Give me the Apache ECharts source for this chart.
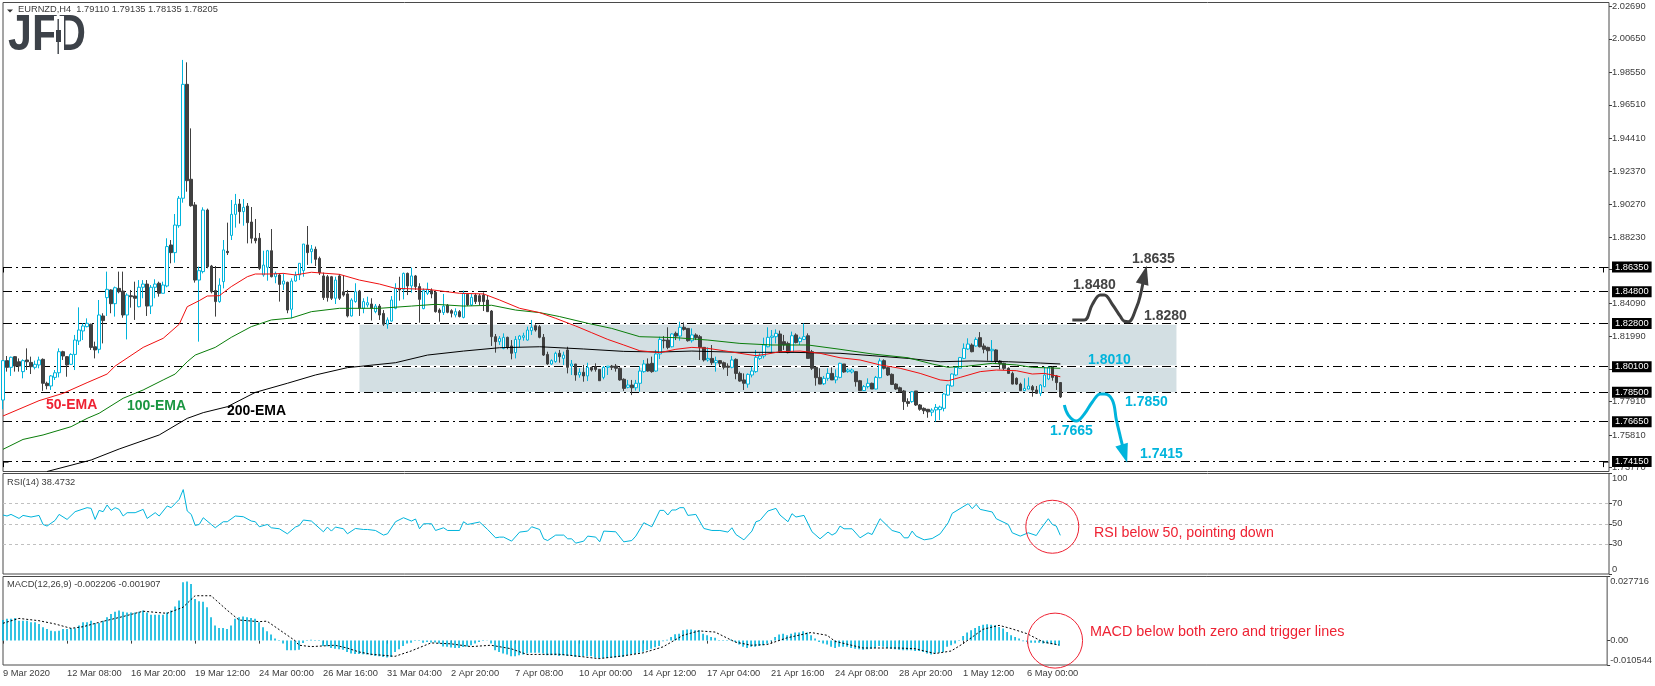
<!DOCTYPE html>
<html><head><meta charset="utf-8">
<style>html,body{margin:0;padding:0;background:#fff}#c{width:1655px;height:686px}</style>
<script src="https://cdn.jsdelivr.net/npm/echarts@6/dist/echarts.min.js"></script>
</head><body><div id="c"></div><script>
const xTickLabels=['9 Mar 2020','12 Mar 08:00','16 Mar 20:00','19 Mar 12:00','24 Mar 00:00','26 Mar 16:00','31 Mar 04:00','2 Apr 20:00','7 Apr 08:00','10 Apr 00:00','14 Apr 12:00','17 Apr 04:00','21 Apr 16:00','24 Apr 08:00','28 Apr 20:00','1 May 12:00','6 May 00:00'];
const priceTicks=[2.0269,2.0065,1.9855,1.9651,1.9441,1.9237,1.9027,1.8823,1.8619,1.8409,1.8199,1.7995,1.7791,1.7581,1.7377];
const levels=[1.8635,1.848,1.828,1.801,1.785,1.7665,1.7415];
const lastPrice=1.78205;
const boxRange=[1.828,1.785];
// open, close, low, high
const candles=[
[1.7801,1.8048,1.7743,1.8052],[1.8048,1.8006,1.7979,1.8077],[1.8006,1.8069,1.7952,1.8073],[1.8073,1.8014,1.7979,1.8077],[1.8041,1.8014,1.7979,1.8062],
[1.7979,1.8048,1.7937,1.8056],[1.8052,1.8041,1.7989,1.8125],[1.8037,1.8010,1.7964,1.8073],[1.8006,1.8025,1.7993,1.8048],[1.8021,1.8052,1.8000,1.8073],
[1.8056,1.7906,1.7858,1.8062],[1.7906,1.7891,1.7868,1.7916],[1.7889,1.7952,1.7864,1.7958],[1.7943,1.7972,1.7927,1.7989],[1.7972,1.8104,1.7943,1.8125],
[1.8104,1.8077,1.8052,1.8110],[1.8073,1.8021,1.7947,1.8077],[1.8025,1.8087,1.8021,1.8094],[1.8087,1.8177,1.7989,1.8209],[1.8171,1.8240,1.8146,1.8382],
[1.8234,1.8265,1.8177,1.8282],[1.8261,1.8282,1.8257,1.8313],[1.8276,1.8131,1.8115,1.8280],[1.8135,1.8115,1.8062,1.8167],[1.8119,1.8334,1.8094,1.8428],
[1.8328,1.8299,1.8156,1.8345],[1.8443,1.8495,1.8328,1.8606],[1.8491,1.8405,1.8345,1.8495],[1.8405,1.8505,1.8324,1.8512],[1.8501,1.8480,1.8470,1.8606],
[1.8484,1.8334,1.8317,1.8606],[1.8334,1.8459,1.8181,1.8470],[1.8455,1.8449,1.8380,1.8491],[1.8453,1.8439,1.8303,1.8543],[1.8386,1.8508,1.8382,1.8553],
[1.8508,1.8528,1.8439,1.8553],[1.8528,1.8390,1.8328,1.8553],[1.8390,1.8508,1.8340,1.8522],[1.8508,1.8528,1.8439,1.8558],[1.8533,1.8470,1.8449,1.8543],
[1.8470,1.8522,1.8470,1.8543],[1.8516,1.8763,1.8508,1.8815],[1.8773,1.8725,1.8658,1.8804],[1.8725,1.8898,1.8662,1.8967],[1.8894,1.9066,1.8881,1.9080],
[1.9066,1.9780,1.9038,1.9933],[1.9780,1.9176,1.9107,1.9918],[1.9185,1.9019,1.9013,1.9504],[1.9024,1.8553,1.8537,1.9042],[1.8553,1.8612,1.8167,1.8637],
[1.8606,1.8992,1.8595,1.9009],[1.8992,1.8637,1.8627,1.9001],[1.8641,1.8480,1.8470,1.8648],[1.8487,1.8418,1.8324,1.8641],[1.8418,1.8522,1.8411,1.8564],
[1.8543,1.8742,1.8501,1.8804],[1.8733,1.8725,1.8710,1.8913],[1.8833,1.8965,1.8804,1.9055],[1.8965,1.9028,1.8882,1.9093],[1.9030,1.8982,1.8907,1.9061],
[1.8982,1.9009,1.8894,1.9061],[1.9017,1.8913,1.8783,1.9036],[1.8917,1.8815,1.8783,1.9011],[1.8815,1.8800,1.8783,1.8936],[1.8815,1.8627,1.8616,1.8848],
[1.8585,1.8647,1.8574,1.8737],[1.8633,1.8737,1.8549,1.8742],[1.8737,1.8574,1.8570,1.8873],[1.8574,1.8595,1.8533,1.8606],[1.8585,1.8526,1.8418,1.8595],
[1.8528,1.8547,1.8491,1.8595],[1.8539,1.8365,1.8345,1.8543],[1.8370,1.8547,1.8313,1.8564],[1.8547,1.8581,1.8543,1.8606],[1.8585,1.8658,1.8553,1.8658],
[1.8612,1.8779,1.8574,1.8779],[1.8773,1.8725,1.8648,1.8892],[1.8731,1.8748,1.8658,1.8773],[1.8746,1.8683,1.8641,1.8763],[1.8689,1.8599,1.8585,1.8700],
[1.8579,1.8443,1.8428,1.8600],[1.8574,1.8443,1.8418,1.8585],[1.8574,1.8439,1.8428,1.8579],[1.8439,1.8553,1.8403,1.8574],[1.8579,1.8439,1.8428,1.8591],
[1.8480,1.8459,1.8449,1.8585],[1.8466,1.8328,1.8319,1.8491],[1.8328,1.8428,1.8324,1.8439],[1.8418,1.8480,1.8411,1.8533],[1.8484,1.8376,1.8328,1.8491],
[1.8376,1.8418,1.8345,1.8439],[1.8397,1.8411,1.8382,1.8449],[1.8403,1.8376,1.8299,1.8439],[1.8355,1.8390,1.8345,1.8403],[1.8390,1.8334,1.8303,1.8403],
[1.8344,1.8276,1.8265,1.8365],[1.8276,1.8303,1.8248,1.8319],[1.8296,1.8428,1.8292,1.8453],[1.8376,1.8501,1.8370,1.8533],[1.8501,1.8491,1.8424,1.8574],
[1.8495,1.8595,1.8432,1.8600],[1.8595,1.8516,1.8459,1.8600],[1.8516,1.8579,1.8474,1.8631],[1.8579,1.8512,1.8491,1.8585],[1.8512,1.8432,1.8286,1.8533],
[1.8374,1.8487,1.8370,1.8501],[1.8470,1.8495,1.8459,1.8537],[1.8487,1.8466,1.8439,1.8501],[1.8476,1.8355,1.8349,1.8487],[1.8365,1.8349,1.8292,1.8376],
[1.8349,1.8390,1.8334,1.8466],[1.8395,1.8351,1.8345,1.8403],[1.8361,1.8345,1.8319,1.8370],[1.8334,1.8355,1.8319,1.8376],[1.8355,1.8324,1.8319,1.8365],
[1.8319,1.8470,1.8313,1.8487],[1.8464,1.8397,1.8390,1.8470],[1.8397,1.8445,1.8390,1.8466],[1.8459,1.8418,1.8403,1.8470],[1.8455,1.8418,1.8397,1.8466],
[1.8459,1.8418,1.8359,1.8476],[1.8428,1.8355,1.8355,1.8459],[1.8359,1.8198,1.8140,1.8365],[1.8198,1.8167,1.8098,1.8215],[1.8167,1.8188,1.8146,1.8202],
[1.8125,1.8194,1.8119,1.8219],[1.8194,1.8131,1.8119,1.8198],[1.8140,1.8094,1.8056,1.8177],[1.8098,1.8181,1.8062,1.8202],[1.8181,1.8202,1.8131,1.8209],
[1.8194,1.8204,1.8173,1.8223],[1.8177,1.8240,1.8173,1.8261],[1.8236,1.8257,1.8209,1.8303],[1.8267,1.8240,1.8230,1.8276],[1.8261,1.8194,1.8188,1.8271],
[1.8194,1.8083,1.8077,1.8215],[1.8087,1.8027,1.8021,1.8104],[1.8027,1.8048,1.8021,1.8056],[1.8042,1.8094,1.8035,1.8104],[1.8094,1.8073,1.8035,1.8115],
[1.8062,1.8083,1.8021,1.8104],[1.8115,1.8006,1.7968,1.8135],[1.8014,1.8027,1.7958,1.8052],[1.8027,1.7958,1.7922,1.8027],[1.7958,1.7975,1.7941,1.8000],
[1.7975,1.7952,1.7916,1.8021],[1.7952,1.8006,1.7920,1.8035],[1.8006,1.7989,1.7979,1.8010],[1.8010,1.7993,1.7979,1.8031],[1.7993,1.7922,1.7922,1.7993],
[1.7943,1.8006,1.7931,1.8014],[1.8006,1.8014,1.7958,1.8014],[1.8014,1.8006,1.7989,1.8021],[1.8014,1.8000,1.7979,1.8027],[1.8000,1.7927,1.7922,1.8006],
[1.7931,1.7874,1.7858,1.7937],[1.7881,1.7895,1.7874,1.7927],[1.7895,1.7878,1.7832,1.7927],[1.7878,1.7906,1.7860,1.7927],[1.7906,1.7983,1.7853,1.8014],
[1.7979,1.8027,1.7972,1.8052],[1.8027,1.7983,1.7979,1.8062],[1.8031,1.7979,1.7972,1.8073],[1.7983,1.8090,1.7979,1.8115],[1.8090,1.8181,1.8058,1.8198],
[1.8177,1.8173,1.8125,1.8202],[1.8177,1.8131,1.8119,1.8257],[1.8135,1.8215,1.8131,1.8219],[1.8219,1.8202,1.8177,1.8230],[1.8202,1.8257,1.8173,1.8292],
[1.8257,1.8244,1.8236,1.8288],[1.8250,1.8173,1.8167,1.8250],[1.8173,1.8209,1.8161,1.8250],[1.8209,1.8192,1.8177,1.8219],[1.8198,1.8131,1.8052,1.8209],
[1.8131,1.8052,1.8042,1.8131],[1.8052,1.8062,1.8042,1.8131],[1.8062,1.8035,1.8021,1.8146],[1.8035,1.8048,1.7979,1.8073],[1.8048,1.8031,1.8014,1.8052],
[1.8035,1.8006,1.7993,1.8042],[1.8014,1.8006,1.7952,1.8031],[1.8006,1.8052,1.8000,1.8077],[1.8056,1.7968,1.7931,1.8062],[1.7968,1.7920,1.7916,1.7979],
[1.7927,1.7906,1.7864,1.7968],[1.7901,1.7962,1.7878,1.7968],[1.7958,1.7983,1.7943,1.8010],[1.7979,1.8069,1.7972,1.8115],[1.8062,1.8077,1.8052,1.8094],
[1.8077,1.8146,1.8062,1.8192],[1.8135,1.8194,1.8131,1.8257],[1.8194,1.8202,1.8094,1.8240],[1.8198,1.8219,1.8156,1.8244],[1.8215,1.8104,1.8098,1.8236],
[1.8167,1.8146,1.8115,1.8209],[1.8156,1.8098,1.8094,1.8167],[1.8100,1.8204,1.8098,1.8230],[1.8209,1.8161,1.8156,1.8219],[1.8167,1.8188,1.8146,1.8198],
[1.8181,1.8198,1.8177,1.8282],[1.8204,1.8062,1.8062,1.8219],[1.8104,1.8000,1.7989,1.8115],[1.8006,1.7941,1.7891,1.8010],[1.7943,1.7901,1.7901,1.8000],
[1.7903,1.7937,1.7895,1.7952],[1.7937,1.7968,1.7922,1.8000],[1.7968,1.7927,1.7927,1.8006],[1.7927,1.7947,1.7906,1.7993],[1.7943,1.8031,1.7937,1.8035],
[1.8027,1.7977,1.7972,1.8027],[1.7979,1.7989,1.7972,1.8000],[1.7977,1.7989,1.7968,1.7998],[1.7979,1.7916,1.7885,1.7983],[1.7922,1.7860,1.7860,1.7927],
[1.7860,1.7885,1.7858,1.7895],[1.7885,1.7906,1.7874,1.7937],[1.7906,1.7870,1.7870,1.7910],[1.7870,1.7943,1.7868,1.7952],[1.7941,1.8046,1.7937,1.8062],
[1.8048,1.8000,1.7993,1.8056],[1.8004,1.7958,1.7952,1.8010],[1.7962,1.7899,1.7895,1.7968],[1.7901,1.7870,1.7864,1.7906],[1.7878,1.7853,1.7849,1.7885],
[1.7858,1.7791,1.7739,1.7864],[1.7791,1.7780,1.7759,1.7812],[1.7791,1.7853,1.7784,1.7858],[1.7858,1.7770,1.7764,1.7858],[1.7770,1.7743,1.7734,1.7776],
[1.7749,1.7734,1.7713,1.7755],[1.7743,1.7727,1.7690,1.7745],[1.7725,1.7738,1.7700,1.7749],[1.7739,1.7755,1.7665,1.7776],[1.7741,1.7757,1.7675,1.7766],
[1.7749,1.7839,1.7730,1.7845],[1.7832,1.7895,1.7828,1.7899],[1.7889,1.7964,1.7885,1.7968],[1.7958,1.8006,1.7952,1.8010],[1.8000,1.8067,1.7996,1.8071],
[1.8062,1.8125,1.8058,1.8156],[1.8121,1.8152,1.8115,1.8188],[1.8146,1.8104,1.8100,1.8156],[1.8140,1.8181,1.8135,1.8194],[1.8192,1.8135,1.8131,1.8227],
[1.8140,1.8119,1.8094,1.8156],[1.8131,1.8110,1.8048,1.8135],[1.8110,1.8119,1.8042,1.8177],[1.8115,1.8046,1.8031,1.8119],[1.8046,1.8027,1.7993,1.8052],
[1.8031,1.8000,1.7989,1.8035],[1.8000,1.7968,1.7968,1.8006],[1.7968,1.7901,1.7899,1.7979],[1.7937,1.7901,1.7895,1.7943],[1.7901,1.7860,1.7858,1.7910],
[1.7860,1.7874,1.7858,1.7937],[1.7870,1.7889,1.7868,1.7943],[1.7885,1.7864,1.7822,1.7895],[1.7864,1.7843,1.7839,1.7889],[1.7843,1.7895,1.7826,1.7901],
[1.7885,1.7958,1.7881,1.8010],[1.7933,1.8006,1.7926,1.8010],[1.8006,1.7943,1.7922,1.8014],[1.7952,1.7910,1.7864,1.7958],[1.7911,1.78205,1.78135,1.79135]
];
const ema50=[[0,1.7701],[9,1.7797],[15,1.7843],[21,1.7910],[26,1.7964],[28,1.8014],[35,1.8131],[40,1.8188],[44,1.8276],[46,1.8386],[49,1.8424],[51,1.8453],[54,1.8455],[57,1.8512],[61,1.8574],[63,1.8591],[67,1.8591],[70,1.8595],[73,1.8585],[77,1.8602],[84,1.8589],[89,1.8553],[94,1.8528],[98,1.8501],[106,1.8495],[114,1.8470],[120,1.8466],[124,1.8428],[129,1.8376],[134,1.8349],[138,1.8313],[143,1.8265],[147,1.8223],[151,1.8181],[155,1.8146],[159,1.8110],[164,1.8098],[168,1.8119],[172,1.8131],[176,1.8125],[180,1.8110],[184,1.8094],[188,1.8079],[191,1.8090],[194,1.8104],[199,1.8108],[204,1.8094],[209,1.8066],[214,1.8052],[219,1.8021],[224,1.8000],[229,1.7968],[234,1.7927],[236,1.7922],[239,1.7943],[244,1.7979],[248,1.7989],[253,1.7985],[257,1.7964],[260,1.7968],[262,1.7958],[264,1.7947]];
const ema100=[[0,1.7492],[5,1.7554],[10,1.7582],[17,1.7634],[21,1.7686],[24,1.7718],[30,1.7812],[35,1.7864],[40,1.7927],[43,1.7964],[46,1.8041],[48,1.8083],[53,1.8131],[57,1.8194],[62,1.8261],[67,1.8303],[72,1.8315],[77,1.8355],[84,1.8376],[94,1.8376],[102,1.8390],[108,1.8401],[115,1.8390],[122,1.8395],[128,1.8365],[134,1.8349],[139,1.8324],[146,1.8282],[152,1.8250],[159,1.8198],[168,1.8192],[176,1.8177],[184,1.8156],[192,1.8146],[201,1.8146],[209,1.8119],[217,1.8090],[226,1.8066],[232,1.8027],[236,1.8006],[241,1.8014],[247,1.8031],[253,1.8021],[257,1.8006],[264,1.8000]];
const ema200=[[11,1.7353],[22,1.7425],[29,1.7494],[39,1.7582],[46,1.7686],[50,1.7722],[56,1.7759],[63,1.7849],[71,1.7906],[78,1.7958],[86,1.8004],[98,1.8035],[106,1.8083],[115,1.8108],[124,1.8129],[134,1.8135],[145,1.8121],[155,1.8106],[164,1.8102],[172,1.8108],[184,1.8100],[197,1.8100],[209,1.8094],[217,1.8079],[226,1.8062],[234,1.8041],[242,1.8046],[251,1.8041],[259,1.8033],[264,1.8027]];
const rsi=[[0,58.7],[1,57.7],[2,59.3],[4,55.3],[5,58.3],[7,56.7],[9,58.3],[10,49.3],[11,47.7],[13,53.3],[14,59.3],[16,54.3],[18,62],[21,66],[22,65.3],[23,54.3],[24,63.3],[25,62],[26,68.7],[27,63.3],[28,66],[29,64.3],[30,57.7],[31,61],[33,61],[35,64.3],[36,55.3],[38,61],[39,57.7],[41,67.7],[42,66],[44,74.3],[45,84],[46,62.7],[47,59.3],[48,48.3],[49,49.3],[50,56],[52,49.3],[53,46],[55,52],[56,52],[58,57.7],[60,57],[62,52.7],[63,52],[64,47],[66,49.3],[67,46],[69,45],[71,40],[73,46.7],[74,48.3],[75,53.7],[77,52.7],[80,42],[81,46.7],[82,42.7],[83,46.7],[85,45],[86,40],[88,45.3],[90,44.3],[91,44.3],[93,43.3],[95,38.7],[96,40],[98,52],[100,56],[102,52.7],[103,54.7],[104,45],[105,50],[107,50],[108,43.3],[110,46],[111,43.3],[114,43.3],[115,52],[116,49.3],[119,51.7],[121,44.3],[123,36],[124,36.7],[125,36.7],[127,32.7],[129,41.7],[131,42.7],[132,47],[134,44.3],[135,35],[136,33.3],[138,38.7],[140,38.7],[141,35],[142,35],[143,30.7],[145,32.7],[146,37.7],[148,36.7],[149,32],[150,42.7],[153,42],[155,32],[157,33.3],[158,37.7],[160,51],[162,47],[164,63.3],[165,63.3],[166,58.7],[167,63.7],[168,63.7],[169,66],[170,66],[171,58.3],[173,59.3],[175,45.3],[177,43.3],[179,43.3],[181,41.7],[182,46],[183,39.3],[185,34],[187,42.7],[188,52],[189,53.3],[191,62.7],[193,65.3],[194,58.7],[196,52],[197,60],[198,56.7],[200,58.3],[202,42],[204,35],[206,41.7],[207,38.7],[208,41],[209,47.7],[210,45],[212,45],[214,36],[216,41],[217,39.3],[219,55],[222,43.3],[224,41],[225,36],[226,36],[227,42.7],[228,37.7],[230,34],[232,35.3],[234,40],[236,51],[237,60.3],[241,70],[242,65],[243,69.3],[244,64.3],[247,61.7],[248,55],[251,49.3],[252,41],[254,37.7],[256,41],[258,38.3],[259,44.3],[261,55],[262,49.3],[263,47.7],[264,38.47]];
const rsiLevels=[30,50,70];
const rsiTicks=[0,30,50,70,100];
const macdHist=[.0089,.0094,.0094,.0098,.0086,.0086,.0086,.0079,.0079,.0072,.0058,.0050,.0043,.0040,.0043,.0050,.0050,.0053,.0053,.0065,.0079,.0079,.0086,.0076,.0076,.0086,.0101,.0115,.0125,.0130,.0125,.0122,.0122,.0122,.0125,.0130,.0122,.0112,.0112,.0112,.0112,.0122,.0130,.0147,.0173,.0252,.0256,.0245,.0180,.0170,.0168,.0144,.0101,.0065,.0055,.0055,.0050,.0065,.0094,.0101,.0104,.0101,.0098,.0094,.0079,.0058,.0040,.0026,.0009,.0003,-.0013,-.0042,-.0042,-.0042,-.0040,-.0010,.0003,.0004,.0003,.0003,-.0023,-.0024,-.0032,-.0035,-.0037,-.0040,-.0049,-.0056,-.0058,-.0058,-.0059,-.0060,-.0063,-.0066,-.0068,-.0071,-.0073,-.0071,-.0049,-.0037,-.0023,-.0013,-.0009,.0003,.0003,-.0009,-.0006,-.0008,-.0008,-.0013,-.0025,-.0027,-.0030,-.0032,-.0032,-.0028,-.0025,-.0020,-.0013,-.0006,.0003,.0002,-.0012,-.0042,-.0049,-.0056,-.0060,-.0068,-.0068,-.0063,-.0060,-.0056,-.0052,-.0052,-.0052,-.0056,-.0063,-.0063,-.0063,-.0066,-.0063,-.0066,-.0066,-.0071,-.0071,-.0068,-.0068,-.0068,-.0073,-.0075,-.0075,-.0075,-.0073,-.0073,-.0071,-.0071,-.0063,-.0058,-.0058,-.0052,-.0048,-.0042,-.0035,-.0029,-.0023,-.0003,.0004,.0016,.0027,.0030,.0045,.0048,.0048,.0045,.0045,.0030,.0023,.0016,.0012,.0003,.0003,.0003,.0005,-.0006,-.0017,-.0027,-.0032,-.0027,-.0027,-.0023,-.0020,-.0014,-.0003,.0016,.0026,.0030,.0023,.0030,.0035,.0035,.0040,.0035,.0023,.0009,-.0006,-.0013,-.0017,-.0027,-.0032,-.0027,-.0027,-.0027,-.0032,-.0035,-.0037,-.0039,-.0037,-.0035,-.0032,-.0023,-.0027,-.0032,-.0035,-.0037,-.0039,-.0042,-.0042,-.0042,-.0045,-.0045,-.0049,-.0056,-.0060,-.0056,-.0053,-.0049,-.0027,-.0020,-.0013,.0003,.0020,.0035,.0045,.0055,.0063,.0069,.0071,.0069,.0066,.0059,.0052,.0037,.0023,.0016,.0009,-.0003,-.0006,-.0009,-.0009,-.0009,-.0013,-.0013,-.0016,-.0018,-.0022];
const macdSignal=[[0,.0075],[4,.0096],[9,.0086],[13,.0072],[17,.0053],[20,.0060],[24,.0079],[30,.0104],[35,.0127],[41,.0118],[45,.0144],[48,.0194],[52,.0194],[56,.0132],[59,.0089],[64,.0082],[66,.0084],[70,.0036],[73,0],[74,-.0020],[77,-.0026],[83,-.0020],[86,-.0032],[89,-.0049],[92,-.0059],[98,-.0068],[102,-.0045],[107,-.0010],[112,-.0014],[117,-.0026],[122,-.0020],[127,-.0035],[131,-.0060],[139,-.0059],[143,-.0066],[149,-.0078],[155,-.0066],[160,-.0053],[165,-.0027],[170,.0023],[174,.0042],[178,.0037],[183,-.0006],[187,-.0020],[191,-.0017],[196,.0012],[202,.0035],[206,.0023],[208,-.0003],[215,-.0032],[224,-.0032],[228,-.0035],[233,-.0056],[237,-.0045],[240,-.0013],[245,.0049],[249,.0066],[252,.0052],[256,.0030],[260,-.0006],[264,-.0019]];
const macdTicks=[-0.010544,0,0.027716];
const upPath=[[267,1.8303],[270,1.8303],[272,1.8400],[274,1.8459],[275,1.8459],[277,1.8400],[279,1.8325],[280,1.8295],[281,1.8292],[283,1.8380],[284,1.8460],[285,1.8585]];
const downPath=[[265,1.7770],[266,1.7707],[268,1.7669],[270,1.7713],[272,1.7789],[274,1.7839],[275,1.7839],[277,1.7801],[278,1.7676],[279,1.7569],[280,1.7465]];
const pointerRsi=[262,47];
const pointerMacd=[263,0];
const stepMarks=[[0,1.8635],[0,1.7415],[401,1.8635],[401,1.7415]];

const BLUE='#00b4dc',DARK='#404040',FRAME='#4a4a4a',AX='#3c3c3c',RED='#ee2233';
const FONT='"Liberation Sans",Arial,sans-serif';
const categories=[];for(let i=0;i<402;i++)categories.push(i%16===0&&xTickLabels[i/16]?xTickLabels[i/16]:'');
const L=3,W=1606;
const grids=[{left:L,top:2.5,width:W,height:469},{left:L,top:473.5,width:W,height:100.5},{left:L,top:576.5,width:W,height:88.5}]
  .map(g=>Object.assign(g,{show:true,borderColor:FRAME,borderWidth:1,backgroundColor:'#fff',containLabel:false}));
function xa(i,show){return {type:'category',gridIndex:i,data:categories,boundaryGap:false,show:show,
  axisLine:{show:false},axisTick:{show:show,length:3,interval:(k)=>k%16===0&&k<=256,lineStyle:{color:AX}},
  axisLabel:{show:show,interval:(k)=>k%16===0&&k<=256,align:'left',margin:4,color:AX,fontSize:9.3,fontFamily:FONT,hideOverlap:false},splitLine:{show:false}};}
function ya(i,min,max,ticks,fmt,extra){return Object.assign({type:'value',gridIndex:i,position:'right',min:min,max:max,scale:true,
  axisLine:{show:false},axisTick:{show:true,length:3,customValues:ticks,lineStyle:{color:AX}},
  axisLabel:{show:true,customValues:ticks,margin:3,color:AX,fontSize:9.3,fontFamily:FONT,formatter:fmt,showMinLabel:true,showMaxLabel:true},splitLine:{show:false}},extra||{});}
const lev=v=>({yAxis:v});
const option={animation:false,backgroundColor:'#fff',textStyle:{fontFamily:FONT},
 grid:grids,
 xAxis:[xa(0,false),xa(1,false),xa(2,true)],
 yAxis:[
  ya(0,1.7353,2.0293,priceTicks,v=>v.toFixed(5)),
  (()=>{const a=ya(1,0,100,rsiTicks,v=>String(v));a.axisLabel.verticalAlignMinLabel='bottom';a.axisLabel.verticalAlignMaxLabel='top';return a;})(),
  (()=>{const a=ya(2,macdTicks[0],macdTicks[2],macdTicks,v=>v===0?'0.00':v.toFixed(6));a.axisLabel.verticalAlignMinLabel='bottom';a.axisLabel.verticalAlignMaxLabel='top';return a;})()
 ],
 series:[
  {type:'line',name:'box',xAxisIndex:0,yAxisIndex:0,data:[],z:1,clip:false,silent:true,
   markArea:{silent:true,z:1,itemStyle:{color:'#d3dfe3'},data:[[{xAxis:89,yAxis:boxRange[0]},{xAxis:293,yAxis:boxRange[1]}]]},
   markLine:{silent:true,z:1,precision:5,symbol:'none',label:{show:false},lineStyle:{color:'#fff',width:2.5,type:'solid'},
     data:[[{xAxis:89,yAxis:1.828},{xAxis:293,yAxis:1.828}],[{xAxis:89,yAxis:1.801},{xAxis:293,yAxis:1.801}]]}},
  {type:'line',name:'levels',xAxisIndex:0,yAxisIndex:0,data:[],z:2,clip:false,silent:true,
   markPoint:{silent:true,z:2,symbol:'path://M0 10V0H10',symbolSize:5,label:{show:false},
     itemStyle:{color:'none',borderColor:'#000',borderWidth:1},
     data:stepMarks.map(c=>({coord:c,symbolOffset:[c[0]===0?3:-3,3]}))},
   markLine:{silent:true,z:2,precision:5,symbol:'none',lineStyle:{color:'#000',width:1,type:[9,4,2,4]},
     label:{show:true,position:'end',distance:3,color:'#fff',backgroundColor:'#000',padding:[1,3,1,3],fontSize:9.3,fontFamily:FONT,formatter:p=>Number(p.value).toFixed(5)},
     data:[{yAxis:lastPrice,lineStyle:{opacity:0},label:{backgroundColor:'#7f7f7f'}}].concat(levels.map(lev))}},
  {type:'candlestick',name:'EURNZD',xAxisIndex:0,yAxisIndex:0,data:candles,barWidth:3,z:3,
   itemStyle:{color:'#fff',color0:DARK,borderColor:BLUE,borderColor0:DARK,borderWidth:1}},
  {type:'line',name:'200-EMA',xAxisIndex:0,yAxisIndex:0,data:ema200,showSymbol:false,z:4,lineStyle:{color:'#000',width:1}},
  {type:'line',name:'100-EMA',xAxisIndex:0,yAxisIndex:0,data:ema100,showSymbol:false,z:4,lineStyle:{color:'#0a7d0a',width:1}},
  {type:'line',name:'50-EMA',xAxisIndex:0,yAxisIndex:0,data:ema50,showSymbol:false,z:4,lineStyle:{color:'#f01010',width:1}},
  {type:'line',name:'up',xAxisIndex:0,yAxisIndex:0,smooth:0.4,showAllSymbol:true,symbol:'none',clip:false,z:6,lineStyle:{color:'#404040',width:3},itemStyle:{color:'#404040'},
   data:upPath.map((p,i)=>i===upPath.length-1?{value:p,symbol:'triangle',symbolSize:[13,19],symbolRotate:-14}:{value:p})},
  {type:'line',name:'down',xAxisIndex:0,yAxisIndex:0,smooth:0.4,showAllSymbol:true,symbol:'none',clip:false,z:6,lineStyle:{color:BLUE,width:3},itemStyle:{color:BLUE},
   data:downPath.map((p,i)=>i===downPath.length-1?{value:p,symbol:'triangle',symbolSize:[13,19],symbolRotate:197}:{value:p})},
  {type:'line',name:'RSI',xAxisIndex:1,yAxisIndex:1,data:rsi,showSymbol:false,z:4,lineStyle:{color:BLUE,width:1},
   markLine:{silent:true,symbol:'none',z:2,label:{show:false},lineStyle:{color:'#c0c0c0',width:1,type:[3,3]},data:rsiLevels.map(lev)},
   markPoint:{silent:true,symbol:'circle',symbolSize:53,z:5,label:{show:false},itemStyle:{color:'none',borderColor:RED,borderWidth:1},data:[{coord:pointerRsi}]}},
  {type:'bar',name:'MACD',xAxisIndex:2,yAxisIndex:2,data:macdHist,barWidth:1.6,z:3,itemStyle:{color:BLUE}},
  {type:'line',name:'Signal',xAxisIndex:2,yAxisIndex:2,data:macdSignal,showSymbol:false,z:4,lineStyle:{color:'#000',width:1,type:[2,2]},
   markPoint:{silent:true,symbol:'circle',symbolSize:55,z:5,label:{show:false},clip:false,itemStyle:{color:'none',borderColor:RED,borderWidth:1},data:[{coord:pointerMacd}]}}
 ],
 graphic:[
  {type:'polygon',z:20,shape:{points:[[7,9.5],[13,9.5],[10,12.5]]},style:{fill:'#333'}},
  {type:'text',z:20,left:18,top:5,style:{text:'EURNZD,H4  1.79110 1.79135 1.78135 1.78205',font:'9.3px '+FONT,fill:AX}},
  {type:'text',z:20,left:7,top:477.5,style:{text:'RSI(14) 38.4732',font:'9.3px '+FONT,fill:AX}},
  {type:'text',z:20,left:7,top:580,style:{text:'MACD(12,26,9) -0.002206 -0.001907',font:'9.3px '+FONT,fill:AX}},
  {type:'text',z:20,x:8,y:11,scaleX:0.86,style:{text:'JF',font:'bold 50px '+FONT,fill:'#3d4249'}},
  {type:'text',z:20,x:57,y:11,scaleX:0.8,style:{text:'D',font:'bold 50px '+FONT,fill:'#3d4249'}},
  {type:'rect',z:21,shape:{x:54,y:16,width:10,height:42},style:{fill:'#fff'}},
  {type:'rect',z:22,shape:{x:57.5,y:19,width:1.4,height:35},style:{fill:'#3d4249'}},
  {type:'rect',z:22,shape:{x:56,y:30,width:5,height:12},style:{fill:'#3d4249'}},
  {type:'text',z:20,left:46,top:398,style:{text:'50-EMA',font:'bold 14px '+FONT,fill:RED}},
  {type:'text',z:20,left:127,top:399,style:{text:'100-EMA',font:'bold 14px '+FONT,fill:'#1a9641'}},
  {type:'text',z:20,left:227,top:404,style:{text:'200-EMA',font:'bold 14px '+FONT,fill:'#000'}},
  {type:'text',z:20,left:1132,top:252,style:{text:'1.8635',font:'bold 14px '+FONT,fill:'#444'}},
  {type:'text',z:20,left:1073,top:278,style:{text:'1.8480',font:'bold 14px '+FONT,fill:'#444'}},
  {type:'text',z:20,left:1144,top:309,style:{text:'1.8280',font:'bold 14px '+FONT,fill:'#444'}},
  {type:'text',z:20,left:1088,top:353,style:{text:'1.8010',font:'bold 14px '+FONT,fill:BLUE}},
  {type:'text',z:20,left:1125,top:395,style:{text:'1.7850',font:'bold 14px '+FONT,fill:BLUE}},
  {type:'text',z:20,left:1050,top:424,style:{text:'1.7665',font:'bold 14px '+FONT,fill:BLUE}},
  {type:'text',z:20,left:1140,top:447,style:{text:'1.7415',font:'bold 14px '+FONT,fill:BLUE}},
  {type:'text',z:20,left:1094,top:526,style:{text:'RSI below 50, pointing down',font:'14.2px '+FONT,fill:RED}},
  {type:'text',z:20,left:1090,top:625,style:{text:'MACD below both zero and trigger lines',font:'14.4px '+FONT,fill:RED}}
 ]
};
echarts.init(document.getElementById('c'),null,{renderer:'canvas'}).setOption(option);
</script></body></html>
